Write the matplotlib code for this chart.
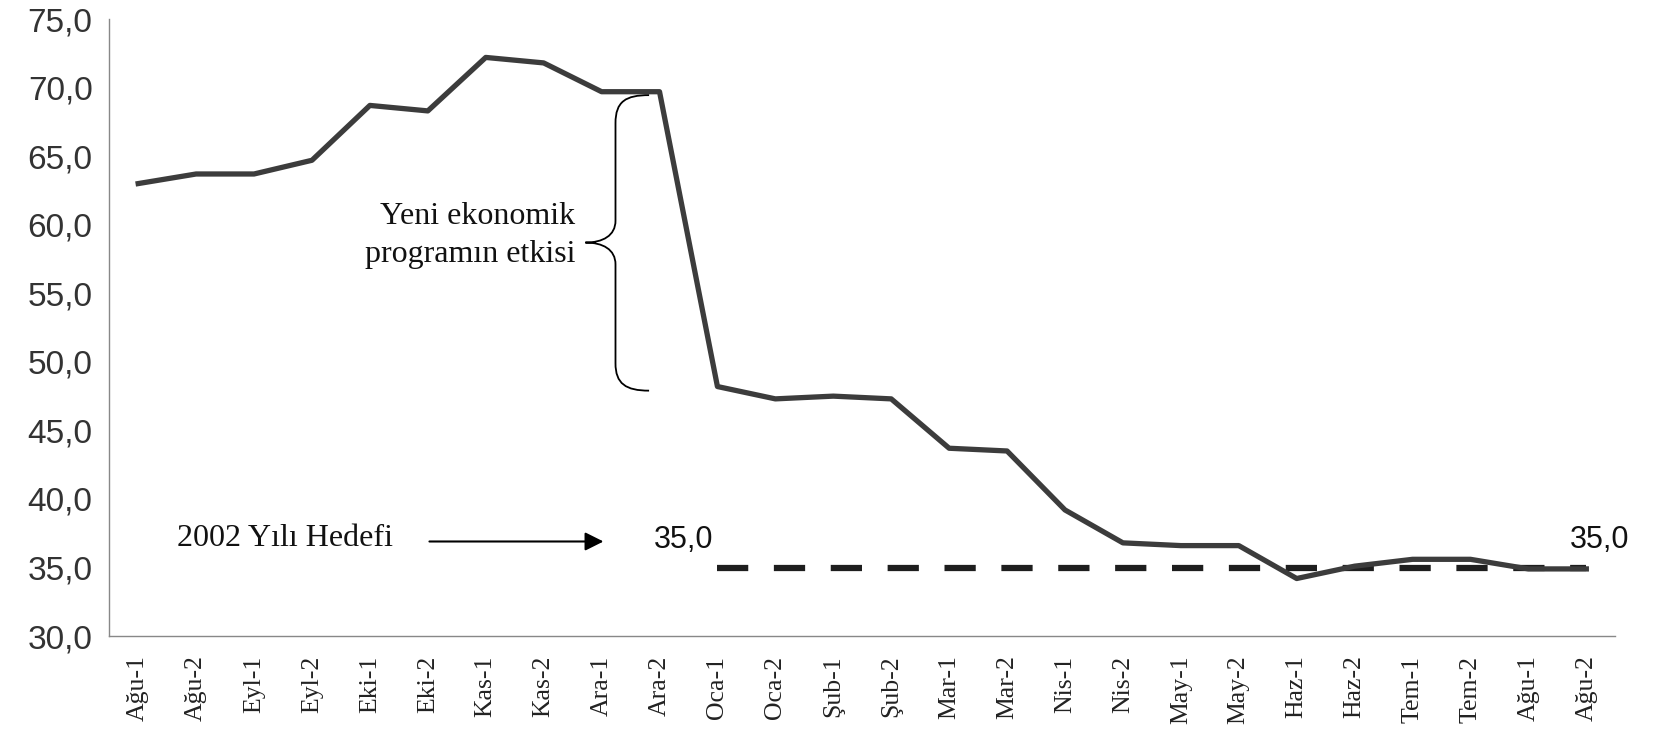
import matplotlib.pyplot as plt
from matplotlib.path import Path
from matplotlib.patches import PathPatch

# Two-week periods and the rate for each one
periods = ["Ağu-1", "Ağu-2", "Eyl-1", "Eyl-2", "Eki-1", "Eki-2", "Kas-1", "Kas-2",
           "Ara-1", "Ara-2", "Oca-1", "Oca-2", "Şub-1", "Şub-2", "Mar-1", "Mar-2",
           "Nis-1", "Nis-2", "May-1", "May-2", "Haz-1", "Haz-2", "Tem-1", "Tem-2",
           "Ağu-1", "Ağu-2"]
rates = [63.0, 63.7, 63.7, 64.7, 68.7, 68.3, 72.2, 71.8, 69.7, 69.7,
         48.2, 47.3, 47.5, 47.3, 43.7, 43.5, 39.2, 36.8, 36.6, 36.6,
         34.2, 35.1, 35.6, 35.6, 34.9, 34.9]

# 2002 target, drawn from Oca-1 to the end
target_value = 35.0
target_start = 10
yticks = [30, 35, 40, 45, 50, 55, 60, 65, 70, 75]

fig = plt.figure(figsize=(16.55, 7.32), dpi=100)
ax = fig.add_axes([0.066, 0.131, 0.910, 0.843])

x = list(range(len(periods)))
ax.plot(x, rates, color="#3c3c3c", lw=3.8, solid_joinstyle="round", zorder=3)

tx = x[target_start:]
ax.plot(tx, [target_value] * len(tx), color="#1e1e1e", lw=4.5,
        dashes=(5.0, 4.1), zorder=2)

ax.set_xlim(-0.5, len(periods) - 0.5)
ax.set_ylim(30, 75)
ax.set_yticks(yticks)
ax.set_yticklabels([f"{v:.1f}".replace(".", ",") for v in yticks],
                   fontfamily="Liberation Sans", fontsize=24, color="#333333")
ax.set_xticks(x)
ax.set_xticklabels(periods, rotation=90, fontfamily="Liberation Serif",
                   fontsize=18.5, color="#222222")
ax.tick_params(axis="y", length=0, pad=12)
ax.tick_params(axis="x", length=0, pad=14)

for side in ["top", "right"]:
    ax.spines[side].set_visible(False)
for side in ["left", "bottom"]:
    ax.spines[side].set_color("#888888")
    ax.spines[side].set_linewidth(1.0)

# Value labels for the target line
ax.text(9.41, 37.0, "35,0", ha="center", va="center", fontsize=22,
        fontfamily="Liberation Sans", color="#111111")
ax.text(25.23, 37.0, "35,0", ha="center", va="center", fontsize=22,
        fontfamily="Liberation Sans", color="#111111")

# Target annotation with arrow
ax.text(4.4, 37.15, "2002 Yılı Hedefi", ha="right", va="center", fontsize=23,
        fontfamily="Liberation Serif", color="#111111")
ax.annotate("", xy=(8.08, 36.9), xytext=(4.98, 36.9),
            arrowprops=dict(arrowstyle="-|>", color="black", lw=1.5,
                            mutation_scale=28))

# Curly brace marking the drop
xv, xe, xt = 8.24, 8.82, 7.72
ytop, ybot, ymid = 69.45, 47.9, 58.7
verts = [
    (xe, ytop), (8.42, ytop), (xv, 69.0), (xv, 67.4),
    (xv, 60.3),
    (xv, 59.2), (8.02, ymid), (xt, ymid),
    (8.02, ymid), (xv, 58.2), (xv, 57.1),
    (xv, 49.9),
    (xv, 48.4), (8.42, ybot), (xe, ybot),
]
codes = [Path.MOVETO, Path.CURVE4, Path.CURVE4, Path.CURVE4,
         Path.LINETO,
         Path.CURVE4, Path.CURVE4, Path.CURVE4,
         Path.CURVE4, Path.CURVE4, Path.CURVE4,
         Path.LINETO,
         Path.CURVE4, Path.CURVE4, Path.CURVE4]
ax.add_patch(PathPatch(Path(verts, codes), facecolor="none",
                       edgecolor="black", lw=1.3, zorder=4))

ax.text(7.55, 59.2, "Yeni ekonomik\nprogramın etkisi", ha="right", va="center",
        fontsize=23, fontfamily="Liberation Serif", color="#111111",
        linespacing=1.4, multialignment="right")

fig.savefig("out.png", dpi=100, facecolor="white")
